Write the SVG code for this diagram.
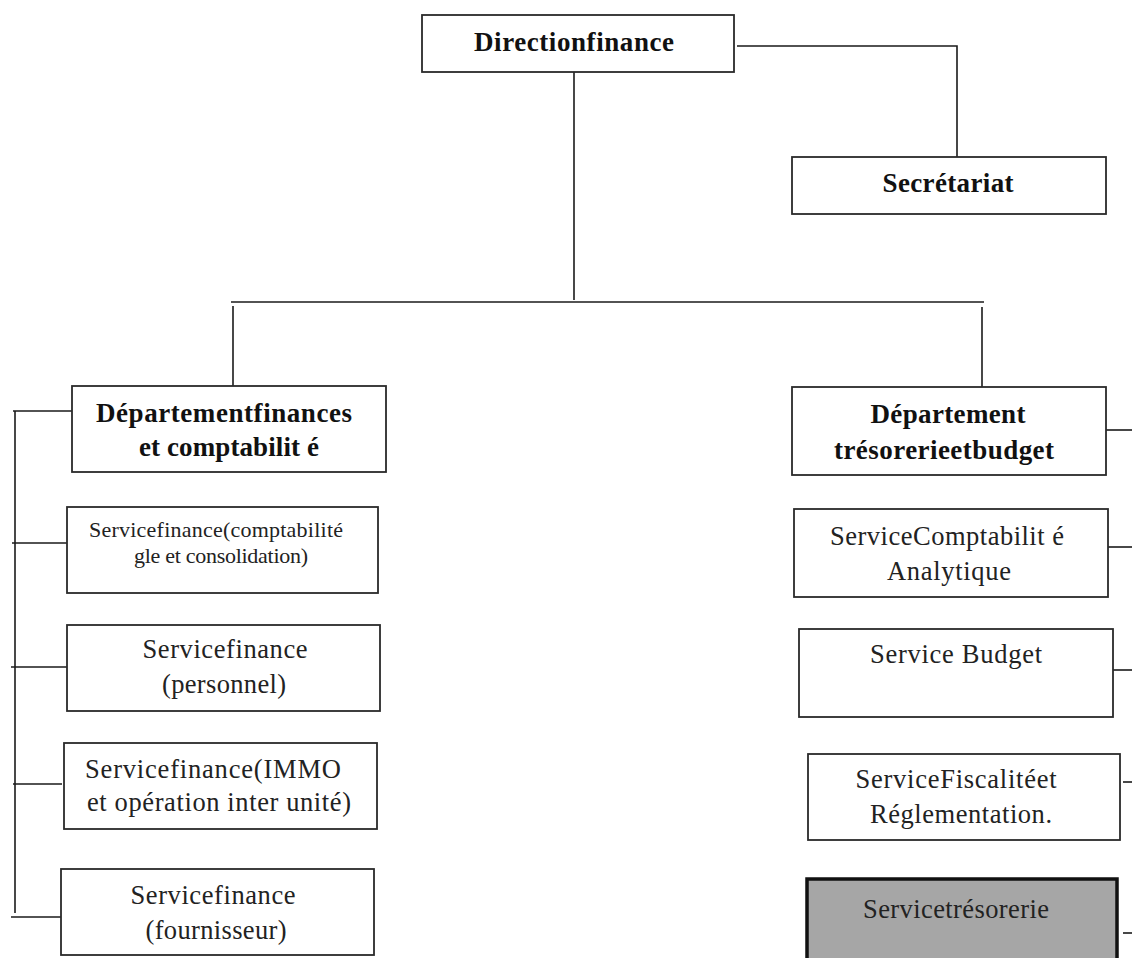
<svg xmlns="http://www.w3.org/2000/svg" width="1132" height="958" viewBox="0 0 1132 958">
<style>
.box{fill:#fff;stroke:#2a2a2a;stroke-width:1.8}
.dark{fill:#a6a6a6;stroke:#111;stroke-width:3.5}
.b{font-family:"Liberation Serif","Times New Roman",serif;font-weight:bold;font-size:27px;fill:#111;text-anchor:middle}
.r{font-family:"Liberation Serif","Times New Roman",serif;font-size:26.5px;fill:#222;text-anchor:middle}
.s{font-family:"Liberation Serif","Times New Roman",serif;font-size:22px;fill:#222;text-anchor:middle}
.c{fill:none;stroke:#1a1a1a;stroke-width:1.6}
</style>
<rect width="1132" height="958" fill="#fff"/>
<g id="connectors">
<path class="c" d="M737 46 H957 V157"/>
<path class="c" d="M574 72 V300"/>
<path class="c" d="M231 302 H984"/>
<path class="c" d="M233 306 V387"/>
<path class="c" d="M982 307 V395"/>
<path class="c" d="M15 411 V913"/>
<path class="c" d="M13 411 H72"/>
<path class="c" d="M12 543 H67"/>
<path class="c" d="M11 667 H67"/>
<path class="c" d="M13 784 H62"/>
<path class="c" d="M11 917 H61"/>
<path class="c" d="M1106 430 H1132"/>
<path class="c" d="M1108 547 H1132"/>
<path class="c" d="M1113 670 H1132"/>
<path class="c" d="M1123 782 H1132"/>
<path class="c" d="M1123 933 H1132"/>
</g>
<g id="direction">
<rect class="box" x="422" y="15" width="312" height="57"/>
<text class="b" x="574" y="51" textLength="200">Directionfinance</text>
</g>
<g id="secretariat">
<rect class="box" x="792" y="157" width="314" height="57"/>
<text class="b" x="948" y="192" textLength="131">Secrétariat</text>
</g>
<g id="dept-finances">
<rect class="box" x="72" y="386" width="314" height="86"/>
<text class="b" x="224" y="422" textLength="256">Départementfinances</text>
<text class="b" x="229" y="456" textLength="180">et comptabilit é</text>
</g>
<g id="dept-tresorerie">
<rect class="box" x="792" y="387" width="314" height="88"/>
<text class="b" x="948" y="423" textLength="155">Département</text>
<text class="b" x="944" y="459" textLength="220">trésorerieetbudget</text>
</g>
<g id="sf-comptabilite">
<rect class="box" x="67" y="507" width="311" height="86"/>
<text class="s" x="216" y="537" textLength="254">Servicefinance(comptabilité</text>
<text class="s" x="221" y="563" textLength="174">gle et consolidation)</text>
</g>
<g id="sf-personnel">
<rect class="box" x="67" y="625" width="313" height="86"/>
<text class="r" x="225" y="658" textLength="165">Servicefinance</text>
<text class="r" x="224" y="693" textLength="124">(personnel)</text>
</g>
<g id="sf-immo">
<rect class="box" x="64" y="743" width="313" height="86"/>
<text class="r" x="213" y="778" textLength="256">Servicefinance(IMMO</text>
<text class="r" x="219" y="811" textLength="264">et opération inter unité)</text>
</g>
<g id="sf-fournisseur">
<rect class="box" x="61" y="869" width="313" height="86"/>
<text class="r" x="213" y="904" textLength="165">Servicefinance</text>
<text class="r" x="216" y="939" textLength="141">(fournisseur)</text>
</g>
<g id="s-comptabilite-analytique">
<rect class="box" x="794" y="509" width="314" height="88"/>
<text class="r" x="947" y="545" textLength="234">ServiceComptabilit é</text>
<text class="r" x="949" y="580" textLength="124">Analytique</text>
</g>
<g id="s-budget">
<rect class="box" x="799" y="629" width="314" height="88"/>
<text class="r" x="956" y="663" textLength="172">Service Budget</text>
</g>
<g id="s-fiscalite">
<rect class="box" x="808" y="754" width="312" height="86"/>
<text class="r" x="956" y="788" textLength="201">ServiceFiscalitéet</text>
<text class="r" x="961" y="823" textLength="182">Réglementation.</text>
</g>
<g id="s-tresorerie">
<rect class="dark" x="807" y="879" width="310" height="90"/>
<text class="r" x="956" y="918" textLength="186">Servicetrésorerie</text>
</g>
</svg>
